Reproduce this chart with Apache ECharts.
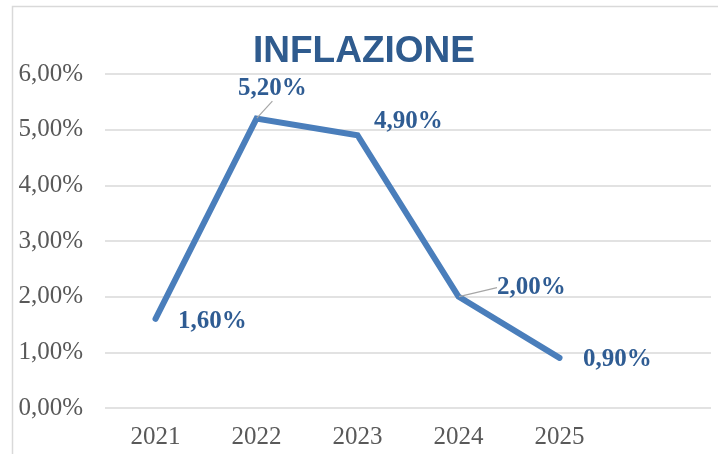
<!DOCTYPE html>
<html>
<head>
<meta charset="utf-8">
<script src="https://cdn.jsdelivr.net/npm/echarts@6/dist/echarts.min.js"></script>
<style>
  html, body { margin: 0; padding: 0; background: #fff; }
  #chart { width: 718px; height: 454px; }
</style>
</head>
<body>
<div id="chart"></div>
<script>
const years = ["2021", "2022", "2023", "2024", "2025", ""];
const inflation = [1.6, 5.2, 4.9, 2.0, 0.9];
// label shifts (dx, dy) relative to the default 'right' position
const labelShift = [[22, 3], [-19, -30], [16, -14], [38, -9], [23, 2]];
const withLeader = [false, true, false, true, false];

const blue = "#2F5C93";
const fmt = (v) => v.toFixed(2).replace(".", ",") + "%";

const chart = echarts.init(document.getElementById("chart"));
chart.setOption({
  backgroundColor: "#fff",
  animation: false,
  title: {
    text: "INFLAZIONE",
    left: 359,
    top: 28,
    textAlign: "center",
    textStyle: { fontFamily: "Liberation Sans", fontWeight: "bold", fontSize: 37, color: "#2F5B8E" }
  },
  graphic: [{
    type: "rect",
    shape: { x: 12.5, y: 6.5, width: 720, height: 460 },
    style: { fill: "none", stroke: "#d9d9d9", lineWidth: 1.5 },
    silent: true
  }],
  grid: { left: 105, right: 7, top: 74, bottom: 46 },
  xAxis: {
    type: "category",
    data: years,
    boundaryGap: true,
    axisLine: { show: false },
    axisTick: { show: false },
    axisLabel: { color: "#595959", fontFamily: "Liberation Serif", fontSize: 25, margin: 17 }
  },
  yAxis: {
    type: "value",
    min: 0,
    max: 6,
    interval: 1,
    axisLine: { show: false },
    axisTick: { show: false },
    splitLine: { lineStyle: { color: "#d9d9d9", width: 1.5 } },
    axisLabel: { color: "#595959", fontFamily: "Liberation Serif", fontSize: 25, margin: 22, formatter: fmt }
  },
  series: [{
    type: "line",
    data: inflation.map((v, i) => ({
      value: v,
      labelLine: { show: withLeader[i] }
    })),
    symbol: "circle",
    symbolSize: 1,
    itemStyle: { color: "#4A7EBB" },
    lineStyle: { color: "#4A7EBB", width: 6, cap: "round", join: "miter" },
    label: {
      show: true,
      position: "right",
      distance: 0,
      color: blue,
      fontFamily: "Liberation Serif",
      fontWeight: "bold",
      fontSize: 25,
      formatter: (p) => fmt(p.value)
    },
    labelLine: { show: false, lineStyle: { color: "#a6a6a6", width: 1.2 } },
    labelLayout: (p) => ({ dx: labelShift[p.dataIndex][0], dy: labelShift[p.dataIndex][1] })
  }]
});
</script>
</body>
</html>
